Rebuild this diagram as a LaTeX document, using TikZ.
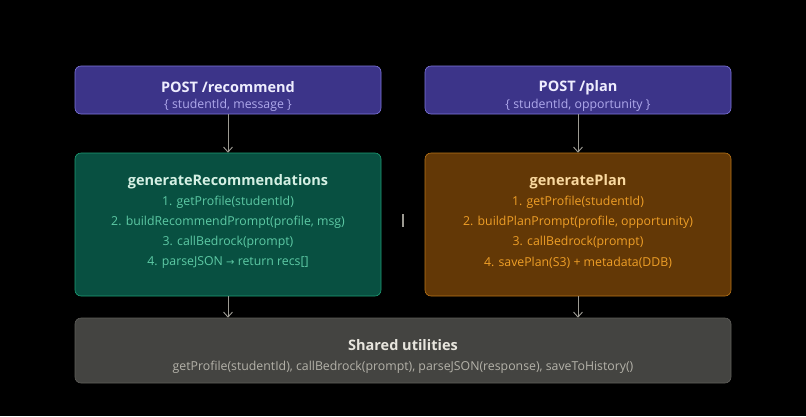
\documentclass[tikz,border=0pt]{standalone}
\usepackage{fontspec}
\setmainfont{Open Sans}
\usetikzlibrary{arrows.meta}
\definecolor{bg}{HTML}{000000}
\definecolor{pfill}{HTML}{3C3489}
\definecolor{pdraw}{HTML}{7F77DD}
\definecolor{ptitle}{HTML}{EEEDFE}
\definecolor{ptext}{HTML}{AFA9EC}
\definecolor{gfill}{HTML}{085041}
\definecolor{gdraw}{HTML}{1D9E75}
\definecolor{gtitle}{HTML}{D5F0E4}
\definecolor{gtext}{HTML}{5DCAA5}
\definecolor{ofill}{HTML}{633806}
\definecolor{odraw}{HTML}{BA7517}
\definecolor{otitle}{HTML}{FAD9A0}
\definecolor{otext}{HTML}{EF9F27}
\definecolor{sfill}{HTML}{444441}
\definecolor{sdraw}{HTML}{5F5E5A}
\definecolor{stitle}{HTML}{E8E6DE}
\definecolor{stext}{HTML}{B4B2A9}
\definecolor{arr}{HTML}{9C9A92}
\tikzset{
  boxbase/.style={rounded corners=6pt, line width=0.6pt, inner sep=0pt},
  ttl/.style={font=\fontsize{14.5}{16}\selectfont\bfseries},
  txt/.style={font=\fontsize{12.3}{14}\selectfont},
  conn/.style={draw=arr, line width=0.9pt, -{Straight Barb[length=5pt,width=9pt]}}
}
\begin{document}
\begin{tikzpicture}[x=1pt,y=-1pt]
\fill[bg] (0,0) rectangle (806,416);
\useasboundingbox (0,0) rectangle (806,416);
% boxes
\draw[boxbase, fill=pfill, draw=pdraw] (75,66) rectangle (381,114);
\node[boxbase, minimum width=306pt, minimum height=48pt] (rec) at (228,90) {};
\draw[boxbase, fill=pfill, draw=pdraw] (425,66) rectangle (731,114);
\node[boxbase, minimum width=306pt, minimum height=48pt] (plan) at (578,90) {};
\draw[boxbase, fill=gfill, draw=gdraw] (75,153) rectangle (381,296);
\node[boxbase, minimum width=306pt, minimum height=143pt] (genrec) at (228,224.5) {};
\draw[boxbase, fill=ofill, draw=odraw] (425,153) rectangle (731,296);
\node[boxbase, minimum width=306pt, minimum height=143pt] (genplan) at (578,224.5) {};
\draw[boxbase, fill=sfill, draw=sdraw] (75,318) rectangle (731,383);
\node[boxbase, minimum width=656pt, minimum height=65pt] (shared) at (403,350.5) {};
% texts
\node[ttl, text=ptitle] (t1) at (228,87.5) {POST /recommend};
\node[txt, text=ptext] (s1) at (228,105) {\{ studentId, message \}};
\node[ttl, text=ptitle] (t2) at (578,87.5) {POST /plan};
\node[txt, text=ptext] (s2) at (578,105) {\{ studentId, opportunity \}};
\node[ttl, text=gtitle] (t3) at (228,181.5) {generateRecommendations};
\node[txt, text=gtext] (g1) at (228,202.5) {1. getProfile(studentId)};
\node[txt, text=gtext] (g2) at (228,222.5) {2. buildRecommendPrompt(profile, msg)};
\node[txt, text=gtext] (g3) at (228,242.5) {3. callBedrock(prompt)};
\node[txt, text=gtext] (g4) at (228,262.5) {4. parseJSON {\fontspec{DejaVu Sans}\fontsize{10}{12}\selectfont→} return recs[]};
\node[ttl, text=otitle] (t4) at (578,181.5) {generatePlan};
\node[txt, text=otext] (o1) at (578,202.5) {1. getProfile(studentId)};
\node[txt, text=otext] (o2) at (578,222.5) {2. buildPlanPrompt(profile, opportunity)};
\node[txt, text=otext] (o3) at (578,242.5) {3. callBedrock(prompt)};
\node[txt, text=otext] (o4) at (578,262.5) {4. savePlan(S3) + metadata(DDB)};
\node[ttl, text=stitle] (t5) at (403,345.5) {Shared utilities};
\node[txt, text=stext] (s5) at (403,367) {getProfile(studentId), callBedrock(prompt), parseJSON(response), saveToHistory()};
% stray mark
\coordinate (m1) at (403,214);
\coordinate (m2) at (403,227);
\draw[draw=arr, line width=1.2pt] (m1) -- (m2);
% connectors
\draw[conn] (rec.south) -- (genrec.north);
\draw[conn] (plan.south) -- (genplan.north);
\draw[conn] (genrec.south) -- (shared.north -| genrec.south);
\draw[conn] (genplan.south) -- (shared.north -| genplan.south);
\end{tikzpicture}
\end{document}
